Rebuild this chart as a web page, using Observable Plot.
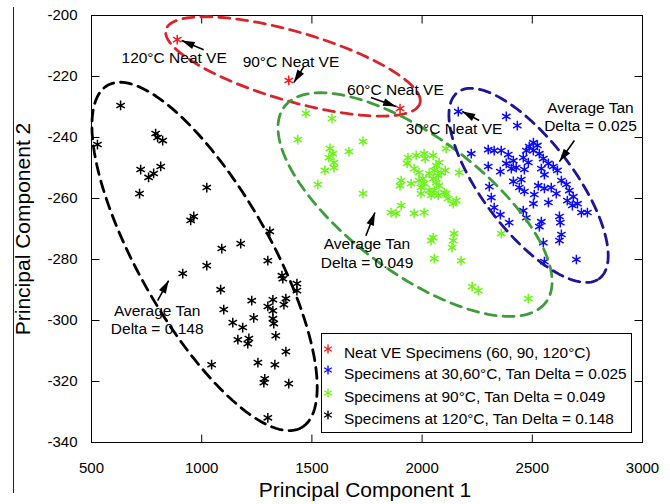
<!DOCTYPE html>
<html>
<head>
<meta charset="utf-8">
<script src="https://cdn.jsdelivr.net/npm/d3@7"></script>
<script src="https://cdn.jsdelivr.net/npm/@observablehq/plot@0.6"></script>
<style>
  body { margin: 0; background: #fff; }
  #wrap { position: relative; width: 670px; height: 504px; background: #fff;
          font-family: "Liberation Sans", Arial, Helvetica, sans-serif; color: #000; }
  #wrap svg { position: absolute; left: 0; top: 0; }
  .xtitle { position: absolute; left: 365px; top: 489px; transform: translate(-50%, -50%);
            font-size: 21px; line-height: 1; white-space: nowrap; }
  .ytitle { position: absolute; left: 22px; top: 229px; transform: translate(-50%, -50%) rotate(-90deg);
            font-size: 21px; line-height: 1; white-space: nowrap; }
  .edge { position: absolute; left: 13px; top: 7px; width: 1px; height: 486px; background: #222; }
  .legend { position: absolute; left: 321px; top: 333px; width: 309px; height: 98px;
            border: 1px solid #000; background: #fff; font-size: 15.4px; }
  .legend .row { position: absolute; left: 0; height: 20px; line-height: 20px; white-space: nowrap; }
  .legend svg { position: absolute; left: 5px; top: 4px; }
  .legend span { position: absolute; left: 22px; top: 0; }
</style>
</head>
<body>
<div id="wrap"></div>
<script>
const FONT = '"Liberation Sans", Arial, Helvetica, sans-serif';

// ---- axes ----
const xTicks = [500, 1000, 1500, 2000, 2500, 3000];
const yTicks = [-340, -320, -300, -280, -260, -240, -220, -200];

// ---- series: [PC1, PC2] ----
const neatVE = [[889, -207.9], [1395, -221.3], [1900, -230.5]];

const tan025 = [
  [2164, -231.5], [2382, -233.1], [2432, -236.1], [2223, -245.3], [2300, -244.0], [2327, -244.3],
  [2359, -244.3], [2391, -245.6], [2414, -247.6], [2382, -248.5], [2405, -250.2], [2427, -249.9],
  [2300, -249.5], [2355, -251.2], [2459, -246.6], [2473, -244.3], [2486, -243.0], [2505, -241.7],
  [2523, -242.6], [2482, -248.2], [2464, -250.5], [2532, -245.3], [2550, -246.9], [2573, -248.5],
  [2595, -249.5], [2614, -250.8], [2541, -250.2], [2555, -252.2], [2305, -256.1], [2414, -254.4],
  [2450, -253.8], [2441, -256.4], [2464, -257.7], [2527, -255.8], [2555, -256.7], [2509, -258.7],
  [2573, -261.3], [2632, -254.1], [2655, -255.4], [2668, -257.4], [2686, -259.4], [2659, -260.7],
  [2682, -262.3], [2705, -261.7], [2723, -264.6], [2750, -264.6], [2355, -265.3], [2395, -267.9],
  [2459, -264.0], [2473, -266.3], [2541, -267.6], [2532, -269.2], [2623, -265.9], [2627, -267.9],
  [2632, -271.8], [2623, -273.8], [2550, -274.5], [2555, -280.7], [2700, -280.0], [2327, -263.0],
  [2505, -261.7], [2586, -256.4], [2609, -258.4], [2505, -244.3], [2314, -259.7]
];

const tan049 = [
  [1473, -232.1], [1591, -233.8], [1436, -240.7], [1582, -243.6], [1595, -245.3], [1577, -246.6],
  [1600, -248.2], [1600, -249.9], [1668, -244.6], [1732, -241.3], [1559, -250.8], [1527, -255.4],
  [1732, -258.4], [1936, -246.6], [1932, -248.5], [1964, -250.2], [2009, -245.3], [2050, -245.9],
  [2014, -246.9], [1973, -245.9], [2109, -243.6], [2064, -249.2], [2077, -248.2], [2055, -250.8],
  [2032, -251.8], [2073, -252.5], [2086, -251.5], [2050, -253.5], [2064, -254.8], [2077, -255.8],
  [2055, -257.4], [2073, -259.0], [1986, -251.5], [2004, -253.5], [1986, -254.1], [1905, -254.1],
  [1900, -255.8], [1950, -255.1], [2009, -255.1], [1995, -256.4], [2105, -250.8], [2168, -251.5],
  [2109, -258.4], [2118, -260.0], [2141, -261.7], [2155, -260.7], [2032, -257.4], [2041, -259.0],
  [1905, -262.3], [1859, -264.6], [1882, -264.9], [1964, -264.9], [2009, -264.6], [2050, -272.8],
  [2145, -271.5], [2359, -271.5], [2041, -273.8], [2055, -279.7], [2141, -273.8], [2136, -276.1],
  [2177, -280.4], [2227, -288.9], [2255, -290.2], [2482, -292.8], [1995, -258.4], [2100, -258.1]
];

const tan148 = [
  [632, -229.5], [527, -242.3], [791, -238.7], [800, -240.0], [823, -241.0], [723, -250.5],
  [759, -253.1], [782, -251.8], [814, -249.5], [718, -258.4], [1023, -256.4], [950, -267.2],
  [964, -265.9], [1309, -270.8], [1177, -274.8], [1091, -276.4], [1300, -280.4], [1023, -282.0],
  [914, -284.6], [1364, -285.3], [1368, -286.3], [1432, -287.9], [1432, -290.2], [1086, -289.9],
  [1227, -293.5], [1300, -295.4], [1323, -293.2], [1382, -292.8], [1373, -294.8], [1100, -296.4],
  [1236, -299.1], [1323, -296.8], [1323, -299.4], [1327, -301.0], [1141, -300.7], [1186, -302.3],
  [1336, -305.0], [1164, -306.3], [1214, -305.9], [1209, -307.6], [1382, -310.2], [1255, -313.8],
  [1045, -314.5], [1332, -314.5], [1286, -319.1], [1282, -320.4], [1395, -320.7], [1300, -331.9]
];

const centroids = [[1336, -219.0], [2514, -255.7], [1964, -259.3], [1159, -290.5]];

// ---- cluster ellipses: [cx, cy, ax, ay, bx, by] (center + two conjugate half-axes) ----
const ellipseNeat = [1414, -216.7, 576, -12.1, -44, -10.9];
const ellipse148 = [1013, -279.0, 440, -56.1, 260, 10.7];
const ellipse049 = [1968, -262.0, 594, -32.0, -184, -17.9];
const ellipse025 = [2483, -255.7, 322, -30.5, 164, 9.1];

// ---- annotations ----
const labelText = ["120°C Neat VE", "90°C Neat VE", "60°C Neat VE", "30°C Neat VE",
  "Average Tan", "Delta = 0.025", "Average Tan", "Delta = 0.049", "Average Tan", "Delta = 0.148"];
const labelX = [875, 1405, 1879, 2145, 2764, 2764, 1750, 1750, 798, 798];
const labelY = [-213.8, -215.1, -224.6, -237.1, -230.2, -236.1, -274.8, -281.0, -296.8, -302.7];
// arrows: [x1, y1, x2 (tip), y2 (tip)]
const arrows = [
  [1009, -211.2, 909, -208.2],
  [1464, -216.7, 1418, -222.0],
  [1768, -226.9, 1882, -229.8],
  [2259, -234.4, 2182, -231.5],
  [2691, -241.0, 2623, -247.9],
  [1745, -272.2, 1786, -264.6],
  [800, -293.5, 850, -286.9]
];

// ---- legend ----
const legendLabels = ["Neat VE Specimens (60, 90, 120°C)", "Specimens at 30,60°C, Tan Delta = 0.025",
  "Specimens at 90°C, Tan Delta = 0.049", "Specimens at 120°C, Tan Delta = 0.148"];
const legendColors = ["#f01c1c", "#0a0aff", "#6cf51a", "#000000"];

// ---- layout ----
const W = 670, H = 504, ML = 91, MR = 28, MT = 15, MB = 62;
const kx = (W - ML - MR) / (xTicks[xTicks.length - 1] - xTicks[0]);
const ky = (H - MT - MB) / (yTicks[yTicks.length - 1] - yTicks[0]);
const xMin = xTicks[0], xMax = xTicks[xTicks.length - 1];
const yMin = yTicks[0], yMax = yTicks[yTicks.length - 1];

function ellipsePoints(e) {
  const n = 160;
  return d3.range(n + 1).map(i => {
    const t = 2 * Math.PI * i / n;
    return {x: e[0] + e[2] * Math.cos(t) + e[4] * Math.sin(t),
            y: e[1] + e[3] * Math.cos(t) + e[5] * Math.sin(t)};
  });
}

const headSymbol = {
  draw(ctx, size) {
    const r = Math.sqrt(size / Math.PI);
    ctx.moveTo(0, 0);
    ctx.lineTo(-0.3 * r, r);
    ctx.lineTo(0.3 * r, r);
    ctx.closePath();
  }
};
// inward tick: a short segment from the anchor point, pointing "up" before rotation
const tickSymbol = {
  draw(ctx, size) {
    const r = Math.sqrt(size / Math.PI);
    ctx.moveTo(0, 0);
    ctx.lineTo(0, -r);
  }
};

const ellipseStyle = {x: "x", y: "y", strokeWidth: 2.8, strokeDasharray: "11,7", curve: "linear"};
const starStyle = {x: d => d[0], y: d => d[1], symbol: "asterisk", r: 4.6, strokeWidth: 1.5, fill: "none"};
const tickStyle = {symbol: tickSymbol, r: 8, stroke: "#000", strokeWidth: 1, fill: "none"};

const annotations = labelText.map((t, i) => ({t, x: labelX[i], y: labelY[i]}));

const chart = Plot.plot({
  width: W, height: H,
  marginLeft: ML, marginRight: MR, marginTop: MT, marginBottom: MB,
  style: {fontFamily: FONT, fontSize: "15px", color: "#000", background: "transparent", overflow: "visible"},
  x: {domain: [xMin, xMax]},
  y: {domain: [yMin, yMax]},
  marks: [
    // tick labels
    Plot.axisX(xTicks, {anchor: "bottom", tickSize: 0, tickPadding: 20, label: null, fontSize: 15,
      tickFormat: d => String(d)}),
    Plot.axisY(yTicks, {anchor: "left", tickSize: 0, tickPadding: 14, label: null, fontSize: 15,
      tickFormat: d => String(d)}),
    // inward ticks on all four sides
    Plot.dot(xTicks, {...tickStyle, x: d => d, y: () => yMin, rotate: 0}),
    Plot.dot(xTicks, {...tickStyle, x: d => d, y: () => yMax, rotate: 180}),
    Plot.dot(yTicks, {...tickStyle, x: () => xMin, y: d => d, rotate: 90}),
    Plot.dot(yTicks, {...tickStyle, x: () => xMax, y: d => d, rotate: -90}),
    Plot.frame({stroke: "#000", strokeWidth: 1}),
    // points
    Plot.dot(tan148, {...starStyle, stroke: legendColors[3]}),
    Plot.dot(tan049, {...starStyle, stroke: legendColors[2]}),
    Plot.dot(tan025, {...starStyle, stroke: legendColors[1]}),
    Plot.dot(neatVE, {...starStyle, stroke: legendColors[0]}),
    Plot.dot(centroids, {x: d => d[0], y: d => d[1], symbol: "plus", r: 2.6, fill: "#ffff00", stroke: "none"}),
    // cluster ellipses
    Plot.line(ellipsePoints(ellipseNeat), {...ellipseStyle, stroke: "#d8242a"}),
    Plot.line(ellipsePoints(ellipse148), {...ellipseStyle, stroke: "#000000"}),
    Plot.line(ellipsePoints(ellipse049), {...ellipseStyle, stroke: "#3f9c3a"}),
    Plot.line(ellipsePoints(ellipse025), {...ellipseStyle, stroke: "#1e1597"}),
    // annotation arrows
    Plot.link(arrows, {x1: d => d[0], y1: d => d[1], x2: d => d[2], y2: d => d[3], stroke: "#000", strokeWidth: 1.6}),
    Plot.dot(arrows, {x: d => d[2], y: d => d[3], symbol: headSymbol, r: 13, fill: "#000", stroke: "none",
      rotate: d => Math.atan2((d[2] - d[0]) * kx, (d[3] - d[1]) * ky) * 180 / Math.PI}),
    // annotation text
    Plot.text(annotations, {x: "x", y: "y", text: "t", fontSize: 15.5, fill: "#000", textAnchor: "middle"})
  ]
});

const wrap = document.getElementById("wrap");
wrap.appendChild(chart);

const edge = document.createElement("div");
edge.className = "edge";
wrap.appendChild(edge);

const xt = document.createElement("div");
xt.className = "xtitle";
xt.textContent = "Principal Component 1";
wrap.appendChild(xt);

const yt = document.createElement("div");
yt.className = "ytitle";
yt.textContent = "Principal Component 2";
wrap.appendChild(yt);

// legend
const legend = document.createElement("div");
legend.className = "legend";
const rowCenters = [19, 40, 63, 85];
legendLabels.forEach((lab, i) => {
  const row = document.createElement("div");
  row.className = "row";
  row.style.top = (rowCenters[i] - 10) + "px";
  const c = legendColors[i];
  row.innerHTML =
    `<svg width="12" height="12" viewBox="0 0 12 12">` +
    `<g stroke="${c}" stroke-width="1.4" fill="none">` +
    `<line x1="6" y1="1.5" x2="6" y2="10.5"/>` +
    `<line x1="2.1" y1="3.75" x2="9.9" y2="8.25"/>` +
    `<line x1="2.1" y1="8.25" x2="9.9" y2="3.75"/></g></svg>` +
    `<span>${lab}</span>`;
  legend.appendChild(row);
});
wrap.appendChild(legend);
</script>
</body>
</html>
